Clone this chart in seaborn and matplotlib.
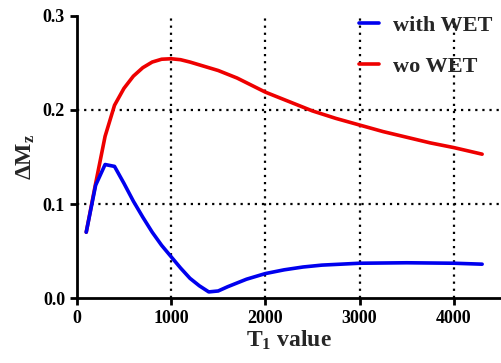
import numpy as np
import pandas as pd
import matplotlib
matplotlib.use("Agg")
import matplotlib.pyplot as plt
import seaborn as sns

# values
t1_with = [100, 200, 300, 400, 500, 600, 700, 800, 900, 1000, 1100, 1200, 1300, 1400, 1500,
           1600, 1700, 1800, 1900, 2000, 2200, 2400, 2600, 2800, 3000, 3500, 4000, 4300]
dmz_with = [0.070, 0.120, 0.142, 0.140, 0.122, 0.103, 0.086, 0.070, 0.056, 0.044, 0.032, 0.021,
            0.013, 0.0065, 0.0075, 0.012, 0.016, 0.020, 0.023, 0.026, 0.030, 0.033, 0.035, 0.036,
            0.037, 0.0375, 0.037, 0.036]

t1_wo = [100, 200, 300, 400, 500, 600, 700, 800, 900, 1000, 1100, 1200, 1300, 1400, 1500,
         1700, 2000, 2250, 2500, 2750, 3000, 3250, 3500, 3750, 4000, 4300]
dmz_wo = [0.070, 0.122, 0.172, 0.205, 0.223, 0.236, 0.245, 0.251, 0.254, 0.2545, 0.2535, 0.251,
          0.248, 0.245, 0.242, 0.234, 0.219, 0.209, 0.199, 0.191, 0.184, 0.177, 0.171, 0.165,
          0.160, 0.153]

df = pd.concat([
    pd.DataFrame({"T1": t1_with, "dMz": dmz_with, "series": "with WET"}),
    pd.DataFrame({"T1": t1_wo, "dMz": dmz_wo, "series": "wo WET"}),
])

sns.set_style("ticks")
plt.rcParams["font.family"] = ["Liberation Serif", "DejaVu Serif"]
plt.rcParams["font.weight"] = "bold"
plt.rcParams["mathtext.fontset"] = "custom"
plt.rcParams["mathtext.rm"] = "Liberation Serif:bold"
plt.rcParams["mathtext.it"] = "Liberation Serif:bold"
plt.rcParams["mathtext.bf"] = "Liberation Serif:bold"

fig = plt.figure(figsize=(5.02, 3.63), dpi=100)
ax = fig.add_axes([0.153, 0.179, 0.845, 0.777])

# grid first so the curves sit on top
for xv in [1000, 2000, 3000, 4000]:
    ax.axvline(xv, color="black", lw=1.6, ls=(0, (1, 2.2)), zorder=1)
for yv in [0.1, 0.2]:
    ax.axhline(yv, color="black", lw=1.6, ls=(0, (1, 2.2)), zorder=1)

sns.lineplot(data=df, x="T1", y="dMz", hue="series", sort=False,
             palette={"with WET": "#0000ee", "wo WET": "#ee0000"},
             hue_order=["wo WET", "with WET"], lw=2.6, ax=ax, zorder=3)

ax.set_xlim(0, 4500)
ax.set_ylim(0, 0.3)
ax.set_xticks([0, 1000, 2000, 3000, 4000])
ax.set_yticks([0.0, 0.1, 0.2, 0.3])
ax.yaxis.set_major_formatter(matplotlib.ticker.FormatStrFormatter("%.1f"))
ax.tick_params(labelsize=13, width=2, length=5, direction="out", colors="black")
for s in ["top", "right"]:
    ax.spines[s].set_visible(False)
for s in ["left", "bottom"]:
    ax.spines[s].set_linewidth(2)
    ax.spines[s].set_color("black")

ax.set_xlabel(r"$\mathregular{T_1}$ value", fontsize=17, fontweight="bold", labelpad=1)
ax.set_ylabel(r"$\mathregular{\Delta M_z}$", fontsize=17, fontweight="bold", labelpad=4)

handles, labels = ax.get_legend_handles_labels()
order = [labels.index("with WET"), labels.index("wo WET")]
ax.legend([handles[i] for i in order], [labels[i] for i in order],
          loc="upper right", frameon=False, fontsize=16, handlelength=0.9,
          handletextpad=0.6, borderaxespad=0.0, labelspacing=0.95,
          bbox_to_anchor=(1.0, 1.035))

fig.savefig("out.png", dpi=100)
